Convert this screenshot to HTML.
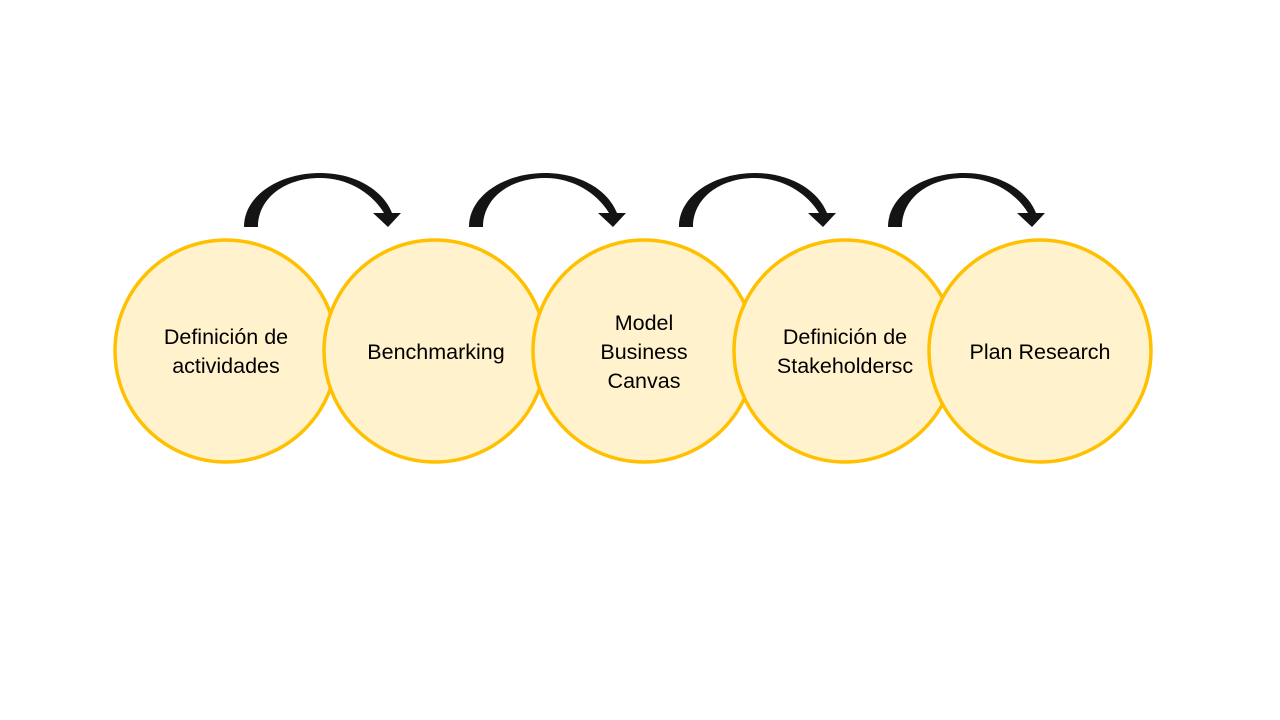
<!DOCTYPE html>
<html><head><style>body{margin:0;background:#fff}svg{display:block}text{font-family:"Liberation Sans",sans-serif;font-size:21.5px;fill:#000}</style></head>
<body>
<svg width="1280" height="720" viewBox="0 0 1280 720">
<defs><g id="a"><path d="M0,54 C0,22 36,0 76,0 C111,0 139,17 148,40 L140,40 C128,20 104,5 76,5 C41,5 14,25 14,54 Z" fill="#141414"/><polygon points="129,40 157,40 144,54" fill="#141414"/></g></defs>
<use href="#a" x="244" y="173"/><use href="#a" x="469" y="173"/><use href="#a" x="679" y="173"/><use href="#a" x="888" y="173"/>
<g fill="#fff2cc" stroke="#ffc000" stroke-width="3.5">
<circle cx="226" cy="351" r="111"/><circle cx="435" cy="351" r="111"/><circle cx="644" cy="351" r="111"/><circle cx="845" cy="351" r="111"/><circle cx="1040" cy="351" r="111"/>
</g>
<g text-anchor="middle">
<text x="226" y="344">Definición de</text><text x="226" y="373">actividades</text>
<text x="436" y="359">Benchmarking</text>
<text x="644" y="330">Model</text><text x="644" y="359">Business</text><text x="644" y="388">Canvas</text>
<text x="845" y="344">Definición de</text><text x="845" y="373">Stakeholdersc</text>
<text x="1040" y="359">Plan Research</text>
</g>
</svg>
</body></html>
